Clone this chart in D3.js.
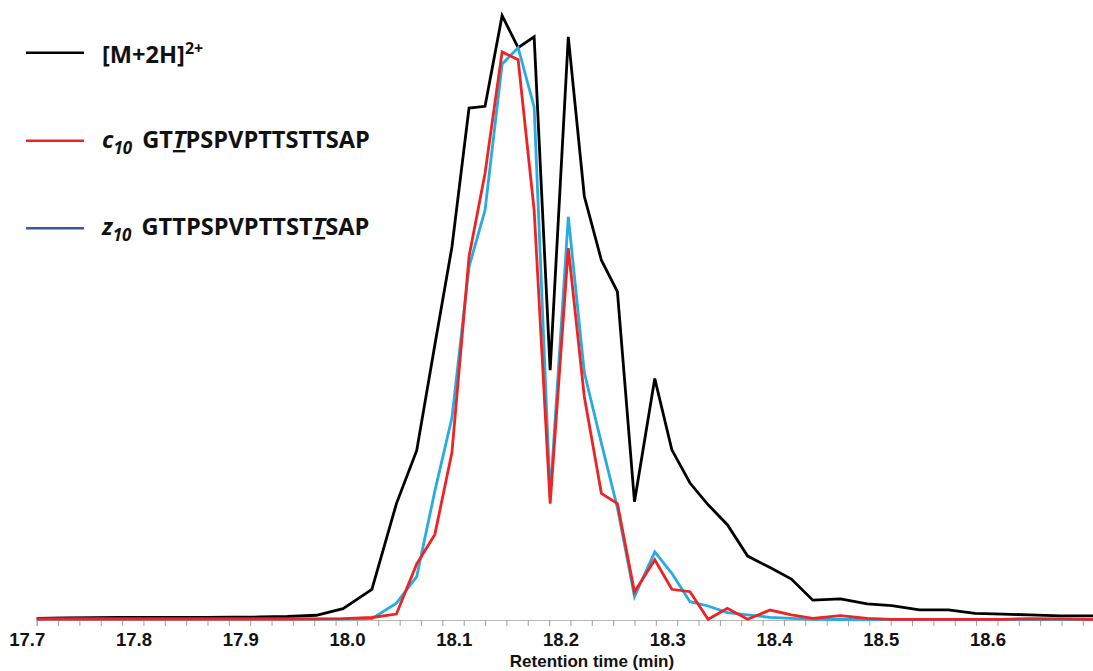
<!DOCTYPE html>
<html>
<head>
<meta charset="utf-8">
<script src="https://cdn.jsdelivr.net/npm/d3@7"></script>
<style>
  html, body { margin: 0; padding: 0; background: #fff; }
  svg { display: block; }
</style>
</head>
<body>
<div id="chart"></div>
<script>
// Retention times (min) of the scans
const times = [17.700, 17.727, 17.753, 17.779, 17.805, 17.831, 17.857, 17.883, 17.909, 17.935,
  17.962, 17.987, 18.014, 18.037, 18.056, 18.073, 18.089, 18.105, 18.120, 18.136,
  18.151, 18.166, 18.181, 18.198, 18.213, 18.229, 18.244, 18.260, 18.279, 18.295,
  18.312, 18.329, 18.347, 18.366, 18.387, 18.407, 18.427, 18.453, 18.478, 18.501,
  18.527, 18.554, 18.579, 18.605, 18.630, 18.659, 18.687, 18.710];

// Relative intensity (%) – [M+2H]2+ precursor
const precursor = [0.2, 0.25, 0.3, 0.33, 0.35, 0.36, 0.36, 0.38, 0.41, 0.5,
  0.7, 1.79, 5.0, 19.2, 28.0, 45.5, 61.7, 84.7, 85.0, 100,
  94.7, 96.5, 41.3, 96.5, 70.1, 59.5, 54.3, 19.5, 39.9, 28.1,
  22.6, 19.0, 15.7, 10.5, 8.6, 6.7, 3.2, 3.4, 2.6, 2.3,
  1.6, 1.6, 1.0, 0.9, 0.75, 0.6, 0.6, 0.55];

// c10 fragment GTTPSPVPTTSTTSAP (red)
const c10 = [0.08, 0.08, 0.08, 0.08, 0.08, 0.08, 0.08, 0.08, 0.08, 0.08,
  0.1, 0.13, 0.33, 0.9, 9.2, 14.1, 27.7, 60.1, 73.9, 94.0,
  92.7, 67.8, 19.2, 61.5, 36.9, 20.9, 19.2, 4.55, 9.9, 5.0,
  4.6, 0.03, 1.85, 0.03, 1.57, 0.75, 0.2, 0.63, 0.2, 0.03,
  0.03, 0.03, 0.03, 0.03, 0.15, 0.12, 0.03, 0.03];

// z10 fragment GTTPSPVPTTSTTSAP (blue)
const z10 = [0.05, 0.05, 0.05, 0.05, 0.05, 0.05, 0.05, 0.05, 0.05, 0.05,
  0.05, 0.05, 0.13, 2.7, 7.1, 21.3, 33.4, 58.4, 67.8, 92.0,
  94.7, 84.9, 20.3, 66.7, 40.9, 29.2, 18.5, 3.8, 11.2, 7.65,
  2.95, 2.24, 1.13, 0.75, 0.36, 0.17, 0.03, 0.0, 0.0, 0.0,
  0.0, 0.0, 0.0, 0.0, 0.0, 0.0, 0.0, 0.0];

const labelTicks = [17.7, 17.8, 17.9, 18.0, 18.1, 18.2, 18.3, 18.4, 18.5, 18.6];
const xTitle = "Retention time (min)";

const W = 1093, H = 671;
const svg = d3.select("#chart").append("svg").attr("width", W).attr("height", H);

const x = d3.scaleLinear().domain([17.7, 18.69]).range([36.7, 1093.5]);
const y = d3.scaleLinear().domain([0, 100]).range([619.5, 15.7]);

svg.append("defs").append("clipPath").attr("id", "plot")
  .append("rect").attr("x", 36).attr("y", 0).attr("width", W - 36).attr("height", 625);

// x axis
const minorTicks = d3.range(0, 50).map(i => +(17.7 + i * 0.02).toFixed(2));
const ax = svg.append("g").attr("transform", "translate(0,620)")
  .call(d3.axisBottom(x).tickValues(minorTicks).tickSizeOuter(0).tickSize(6)
    .tickFormat(d => labelTicks.some(l => Math.abs(l - d) < 1e-6) ? d3.format(".1f")(d) : ""));
ax.select(".domain").attr("stroke", "#b8b8b8").attr("stroke-width", 1.2);
ax.selectAll(".tick line").attr("stroke", "#a0a0a0").attr("stroke-width", 1);
ax.selectAll(".tick text")
  .attr("font-family", "'Liberation Sans', Arial, sans-serif")
  .attr("font-weight", "bold").attr("font-size", 18.5).attr("fill", "#111")
  .attr("dx", -10).attr("y", 13);

svg.append("text").attr("x", 592).attr("y", 667).attr("text-anchor", "middle")
  .attr("font-family", "'Liberation Sans', Arial, sans-serif")
  .attr("font-weight", "bold").attr("font-size", 17).attr("fill", "#111")
  .text(xTitle);

// lines
const series = [
  { vals: precursor, color: "#000000" },
  { vals: z10, color: "#29abe2" },
  { vals: c10, color: "#ee2324" }
];
const line = d3.line().x((d, i) => x(times[i])).y(d => y(d));
const g = svg.append("g").attr("clip-path", "url(#plot)");
series.forEach(s => {
  g.append("path").datum(s.vals).attr("d", line)
    .attr("fill", "none").attr("stroke", s.color).attr("stroke-width", 2.8)
    .attr("stroke-linejoin", "miter").attr("stroke-miterlimit", 4);
});

// legend
const legendFont = "'Open Sans', 'Noto Sans', sans-serif";
const legend = [
  { y: 52.7, base: 63, color: "#000000", key: "m" },
  { y: 140.7, base: 148, color: "#ee2324", key: "c" },
  { y: 228.3, base: 235, color: "#3a57a7", key: "z" }
];
legend.forEach(l => {
  svg.append("line").attr("x1", 26).attr("x2", 84).attr("y1", l.y).attr("y2", l.y)
    .attr("stroke", l.color).attr("stroke-width", 2.6);
  const t = svg.append("text").attr("x", 102).attr("y", l.base)
    .attr("font-family", legendFont).attr("font-weight", "bold")
    .attr("font-size", 23.6).attr("fill", "#111");
  if (l.key === "m") {
    t.append("tspan").text("[M+2H]");
    t.append("tspan").attr("font-size", 16).attr("dy", -9).text("2+");
  } else {
    t.append("tspan").attr("font-style", "italic").text(l.key);
    t.append("tspan").attr("font-style", "italic").attr("font-size", 17).attr("dy", 6).text("10");
    const seq = l.key === "c" ? ["GT", "T", "PSPVPTTSTTSAP"] : ["GTTPSPVPTTST", "T", "SAP"];
    t.append("tspan").attr("dy", -6).attr("dx", 10).text(seq[0]);
    t.append("tspan").attr("font-style", "italic").attr("text-decoration", "underline").text(seq[1]);
    t.append("tspan").text(seq[2]);
  }
});
</script>
</body>
</html>
